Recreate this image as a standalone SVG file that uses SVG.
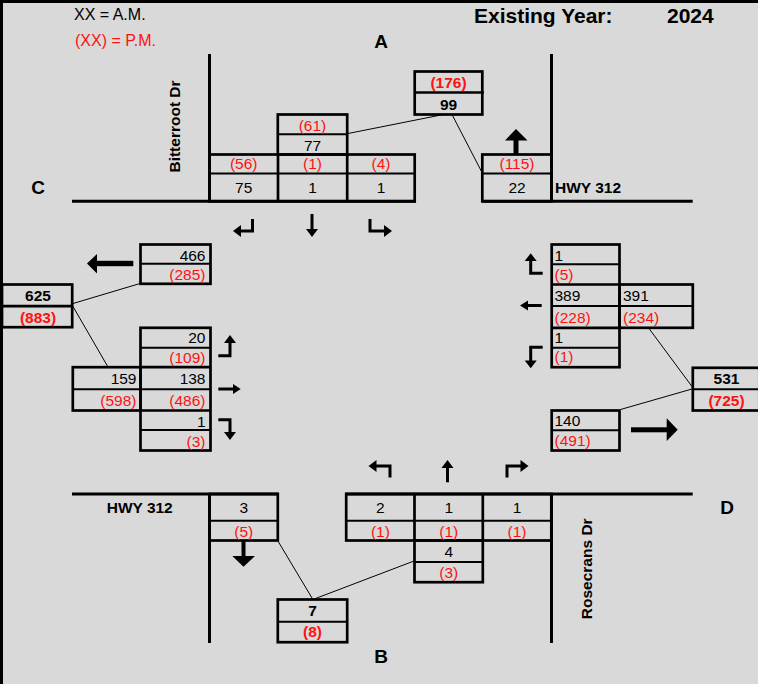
<svg xmlns="http://www.w3.org/2000/svg" width="758" height="684" viewBox="0 0 758 684">
<style>
text{font-family:"Liberation Sans",Arial,sans-serif;font-size:15.5px;fill:#000}
.r{fill:#ff1111}
.b{font-weight:bold}
.c{text-anchor:middle}
.e{text-anchor:end}
.box{fill:none;stroke:#000;stroke-width:2.7}
.dv{stroke:#000;stroke-width:2;fill:none}
.road{stroke:#000;stroke-width:3;fill:none}
.conn{stroke:#000;stroke-width:1;fill:none}
.turn{stroke:#000;stroke-width:3;fill:none}
.hd{fill:#000}
</style>
<rect x="0" y="0" width="758" height="684" fill="#d9d9d9"/>
<rect x="1.5" y="1.5" width="800" height="800" fill="none" stroke="#000" stroke-width="3"/>

<g id="legend">
<text x="74" y="20" style="font-size:16px">XX = A.M.</text>
<text x="75" y="46" class="r" style="font-size:16px">(XX) = P.M.</text>
<text x="474" y="23" class="b" style="font-size:21px">Existing Year:</text>
<text x="667" y="23" class="b" style="font-size:21px">2024</text>
</g>

<g id="roads">
<path class="road" d="M72,201.3H416M482,201.3H692.7M209.5,54V201.3M551.5,54V201.3M72,494H278.5M345,494H692.7M209.5,494V643M551.5,494V643"/>
<text x="381" y="48.3" class="b c" style="font-size:19px">A</text>
<text x="381" y="662.7" class="b c" style="font-size:19px">B</text>
<text x="38" y="194.3" class="b c" style="font-size:19px">C</text>
<text x="727" y="514" class="b c" style="font-size:19px">D</text>
<text class="b c" transform="translate(180,126.5) rotate(-90)">Bitterroot Dr</text>
<text class="b c" transform="translate(591.5,568.8) rotate(-90)">Rosecrans Dr</text>
<text x="555" y="193.3" class="b">HWY 312</text>
<text x="106.7" y="513.3" class="b">HWY 312</text>
</g>

<g id="connectors">
<path class="conn" d="M348,133.5L441,115M452.5,115.5L481.5,171.5M73,303.5L140,283.5M73,306.5L107.7,366.5M649,328.5L692,386.5M620.5,409.5L692,389M278.5,542L312.3,598.5M315.5,598.5L414,561"/>
</g>

<g id="approach-A">
<rect class="box" x="209.5" y="154.5" width="205.2" height="46.8"/>
<path class="box" d="M278,154.5V201.3M347.2,154.5V201.3"/>
<path class="dv" d="M209.5,173.5H414.7"/>
<rect class="box" x="277.8" y="114.5" width="69.4" height="40"/>
<path class="dv" d="M277.8,134.2H347.2"/>
<text x="312.5" y="131" class="r c">(61)</text>
<text x="312.5" y="150.5" class="c">77</text>
<text x="243.7" y="169" class="r c">(56)</text>
<text x="312.5" y="169" class="r c">(1)</text>
<text x="381" y="169" class="r c">(4)</text>
<text x="243.7" y="193" class="c">75</text>
<text x="312.5" y="193" class="c">1</text>
<text x="381" y="193" class="c">1</text>
<path class="turn" d="M252.5,219V231H240"/>
<polygon class="hd" points="233,231 241,225 241,237"/>
<path class="turn" d="M312,214V230"/>
<polygon class="hd" points="306,229 318,229 312,237"/>
<path class="turn" d="M370,219V231H385"/>
<polygon class="hd" points="392,231 384,225 384,237"/>
</g>

<g id="total-A">
<rect class="box" x="414.7" y="71.5" width="67.6" height="43"/>
<path class="box" d="M414.7,92.5H484"/>
<text x="448.5" y="88" class="r b c">(176)</text>
<text x="448.5" y="109.5" class="b c">99</text>
</g>

<g id="exit-A">
<rect class="box" x="482.3" y="154.5" width="69.2" height="46.8"/>
<path class="dv" d="M482.3,173.5H551.5"/>
<text x="517" y="169" class="r c">(115)</text>
<text x="517" y="193" class="c">22</text>
<rect class="hd" x="513.5" y="139.5" width="5" height="15"/>
<polygon class="hd" points="505,140.5 516,129 527.5,140.5"/>
</g>

<g id="exit-C">
<rect class="box" x="140.5" y="244.5" width="70" height="39.3"/>
<path class="dv" d="M140.5,263.7H210.5"/>
<text x="205.5" y="260.5" class="e">466</text>
<text x="205.5" y="279.5" class="r e">(285)</text>
<rect class="hd" x="95" y="260.8" width="38.3" height="5.4"/>
<polygon class="hd" points="87,263.5 97,254 97,273.5"/>
</g>

<g id="total-C">
<rect class="box" x="2" y="284.5" width="70.2" height="42.7"/>
<path class="box" d="M2,306.2H72.2"/>
<text x="38" y="301" class="b c">625</text>
<text x="38" y="322.5" class="r b c">(883)</text>
</g>

<g id="approach-C">
<rect class="box" x="140.5" y="327.8" width="70" height="122.7"/>
<path class="box" d="M140.5,367.2H210.5M140.5,410.5H210.5"/>
<path class="dv" d="M140.5,347.7H210.5M140.5,430H210.5M72.8,389.3H210.5"/>
<rect class="box" x="72.8" y="367.2" width="67.7" height="43.3"/>
<text x="205.5" y="343.3" class="e">20</text>
<text x="205.5" y="362.7" class="r e">(109)</text>
<text x="136.5" y="384.3" class="e">159</text>
<text x="205.5" y="384.3" class="e">138</text>
<text x="136.5" y="406" class="r e">(598)</text>
<text x="205.5" y="406" class="r e">(486)</text>
<text x="205.5" y="426.7" class="e">1</text>
<text x="205.5" y="446.5" class="r e">(3)</text>
<path class="turn" d="M218.3,355.8H230V342"/>
<polygon class="hd" points="230,335 224,343 236,343"/>
<path class="turn" d="M218.3,389H234"/>
<polygon class="hd" points="240.7,389 233,384 233,394"/>
<path class="turn" d="M218.3,419.8H230V433"/>
<polygon class="hd" points="230,440 224,432 236,432"/>
</g>

<g id="approach-D">
<rect class="box" x="551.7" y="244.5" width="67.8" height="122.7"/>
<path class="box" d="M551.7,284.5H619.5M551.7,327.8H619.5"/>
<path class="dv" d="M551.7,264.3H619.5M551.7,347.7H619.5M551.7,306H692.8"/>
<rect class="box" x="619.5" y="284.5" width="73.3" height="43.3"/>
<text x="554.5" y="260.7">1</text>
<text x="554.5" y="280" class="r">(5)</text>
<text x="554.5" y="301">389</text>
<text x="623" y="301">391</text>
<text x="554.5" y="322.7" class="r">(228)</text>
<text x="623" y="322.7" class="r">(234)</text>
<text x="554.5" y="342.7">1</text>
<text x="554.5" y="362" class="r">(1)</text>
<path class="turn" d="M542.7,273.3H530.7V260"/>
<polygon class="hd" points="530.7,253.3 524.7,261 536.7,261"/>
<path class="turn" d="M541.7,305.5H527"/>
<polygon class="hd" points="520,305.5 528,300.5 528,310.5"/>
<path class="turn" d="M542.7,347.3H530.7V361"/>
<polygon class="hd" points="530.7,368.3 524.7,360.5 536.7,360.5"/>
</g>

<g id="total-D">
<rect class="box" x="692.8" y="367.8" width="66.5" height="42.7"/>
<path class="dv" d="M692.8,389.3H759.3"/>
<text x="726.5" y="384.3" class="b c">531</text>
<text x="726.5" y="406" class="r b c">(725)</text>
</g>

<g id="exit-D">
<rect class="box" x="551.7" y="410.5" width="67.8" height="40"/>
<path class="dv" d="M551.7,430.3H619.5"/>
<text x="554.5" y="426">140</text>
<text x="554.5" y="445.5" class="r">(491)</text>
<rect class="hd" x="631" y="427.3" width="37" height="5"/>
<polygon class="hd" points="666.7,418.3 677.7,429.8 666.7,441"/>
</g>

<g id="exit-B">
<rect class="box" x="209.5" y="494" width="68.3" height="46.5"/>
<path class="dv" d="M209.5,520.8H277.8"/>
<text x="243.7" y="513.3" class="c">3</text>
<text x="243.7" y="537" class="r c">(5)</text>
<rect class="hd" x="241.5" y="541" width="4" height="16"/>
<polygon class="hd" points="232.3,556 255,556 243.5,566.7"/>
</g>

<g id="approach-B">
<rect class="box" x="346.2" y="494" width="205.1" height="46.5"/>
<path class="box" d="M414.5,494V540.5M482.8,494V540.5"/>
<path class="dv" d="M346.2,520.8H551.3"/>
<rect class="box" x="414.5" y="540.5" width="68.3" height="41.7"/>
<path class="dv" d="M414.5,562H482.8"/>
<text x="380.4" y="513.3" class="c">2</text>
<text x="448.7" y="513.3" class="c">1</text>
<text x="517" y="513.3" class="c">1</text>
<text x="380.4" y="537" class="r c">(1)</text>
<text x="448.7" y="537" class="r c">(1)</text>
<text x="517" y="537" class="r c">(1)</text>
<text x="448.7" y="556.7" class="c">4</text>
<text x="448.7" y="578.3" class="r c">(3)</text>
<path class="turn" d="M390,477.5V466H376"/>
<polygon class="hd" points="368.5,466 376.5,460 376.5,472"/>
<path class="turn" d="M447.5,482.3V467"/>
<polygon class="hd" points="447.5,460 441.5,468 453.5,468"/>
<path class="turn" d="M507,477.5V466H521"/>
<polygon class="hd" points="528.5,466 520.5,460 520.5,472"/>
</g>

<g id="total-B">
<rect class="box" x="277.8" y="599.5" width="69.4" height="42.7"/>
<path class="dv" d="M277.8,621.7H347.2"/>
<text x="312.5" y="616" class="b c">7</text>
<text x="312.5" y="636.7" class="r b c">(8)</text>
</g>
</svg>
